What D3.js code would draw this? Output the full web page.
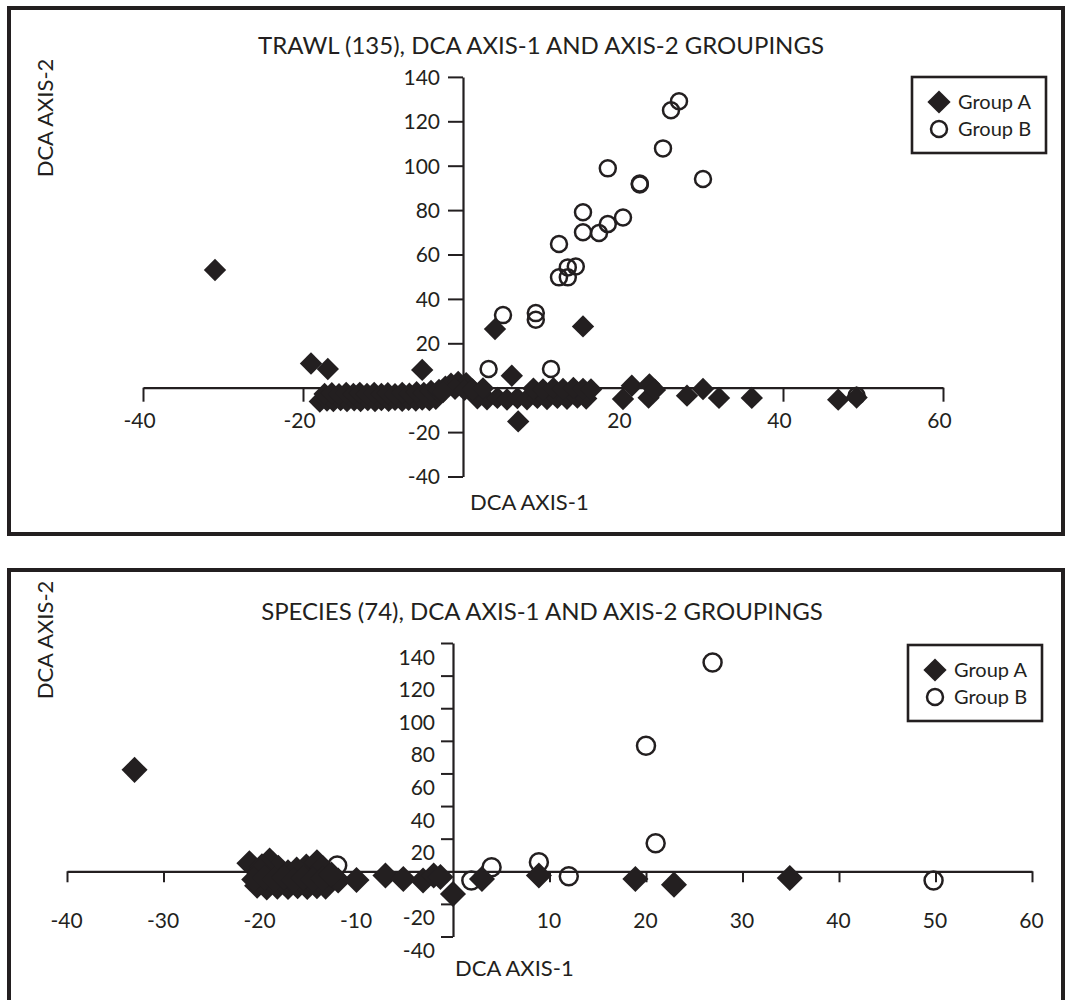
<!DOCTYPE html>
<html><head><meta charset="utf-8">
<script src="https://cdn.jsdelivr.net/npm/d3@7"></script>
<style>body{margin:0;background:#fff}svg{display:block}text{font-family:Lato,"Open Sans",sans-serif;fill:#231f20}</style>
</head><body>
<svg id="chart" width="1068" height="1000"></svg>
<script>
// ---------- DATA ----------
const xTickValues = [-40, -20, 20, 40, 60];
const yTickValues = [140, 120, 100, 80, 60, 40, 20, -20, -40];
const xTickValues2 = [-40, -30, -20, -10, 10, 20, 30, 40, 50, 60];
const legendLabels = ["Group A", "Group B"];
const titles = ["TRAWL (135), DCA AXIS-1 AND AXIS-2 GROUPINGS", "SPECIES (74), DCA AXIS-1 AND AXIS-2 GROUPINGS"];

// TRAWL: Group A (diamonds)
const trawlA = [
  [-31,53],[-19,10.9],[-16.9,8.4],[-5.1,8.0],[4.0,26.4],[15.0,27.6],[6.1,5.4],[6.9,-15.2],
  [20.0,-5.1],[21.1,0.9],[23.3,1.5],[23.2,-4.5],[24,-1],[28.0,-3.6],[30.0,-0.6],[32.0,-4.6],[36.1,-4.6],[46.9,-5.4],[49.2,-4.4],
  [-17.9,-6.2],[-17,-5.8],[-16.2,-6],[-15.3,-5.6],[-14.5,-6],[-13.6,-5.7],[-12.8,-6],[-11.9,-5.6],[-11,-6],[-10.2,-5.6],[-9.3,-5.9],[-8.5,-5.5],[-7.6,-5.9],[-6.8,-5.5],[-5.9,-5.8],[-5.1,-5.4],[-4.2,-5.6],[-3.4,-5],
  [-17.3,-2.8],[-16.4,-2.5],[-15.5,-2.9],[-14.6,-2.4],[-13.7,-2.8],[-12.9,-2.3],[-12,-2.8],[-11.1,-2.4],[-10.2,-2.8],[-9.4,-2.5],[-8.5,-2.9],[-7.6,-2.3],[-6.7,-2.7],[-5.8,-2],[-4.9,-2.4],[-4.0,-1.5],[-3.1,-1.8],
  [-3,-1],[-2.2,0.5],[-1.5,1.8],[-0.6,2.6],[0.4,2.0],[-1,-0.5],[-2.5,-2],[0.2,-1],
  [1.8,-4.8],[3,-5.2],[4.3,-4.6],[5.5,-5.3],[6.8,-4.7],[8,-5.2],[9.3,-4.6],[10.5,-5.1],[11.8,-4.6],[13,-5],[14.3,-4.5],[15.4,-4.9],
  [1.2,-0.8],[2.5,-0.3],[8.8,-0.4],[10,-0.8],[11.3,-0.2],[12.5,-0.6],[13.8,-0.1],[15,-0.5],[16,-0.8]
];
// TRAWL: Group B (circles)
const trawlB = [
  [27.0,129],[26.0,125],[25.0,107.8],[30.0,94],[22.1,91.5],[22.1,92],[18.1,98.8],[15.0,79],[20.0,76.7],[18.1,73.7],
  [17.0,69.7],[15.0,70],[12.0,64.7],[14.1,54.6],[13.1,54.2],[13.1,49.7],[12.0,49.7],[9.1,33.6],[9.1,30.6],[5.0,32.7],
  [3.2,8.4],[11.0,8.4],[49.2,-3.6]
];
// SPECIES: Group A (diamonds)
const speciesA = [
  [-33.0,62.2],
  [-21.1,4.9],[-19.0,6.6],[-18.1,2.1],[-17.1,-0.6],[-15.2,2.9],[-14.1,5.5],[-13.5,2],[-16.2,1],[-19.8,3],[-20,0],
  [-20.3,-8.8],[-19.3,-10],[-18.2,-9.4],[-17.1,-9.6],[-16.1,-9.2],[-15.1,-9.6],[-14.1,-9.2],[-13.2,-9.4],[-11.9,-5.7],
  [-20.6,-5],[-19.5,-4],[-18.5,-5],[-17.5,-4],[-16.5,-5.5],[-15.5,-4],[-14.5,-5],[-13.5,-4.5],[-12.6,-2],
  [-10,-5.3],[-7.0,-2.6],[-5.15,-4.7],[-3.1,-5.7],[-2.0,-2.6],[-1.3,-3.5],
  [0,-13.9],[3.0,-4.7],[8.9,-2.6],[18.9,-4.7],[22.9,-8.2],[34.9,-4.1]
];
// SPECIES: Group B (circles)
const speciesB = [
  [26.9,128],[20.0,77],[21.0,17.2],[8.9,5.5],[4.0,2.5],[1.9,-5.7],[12.0,-3.1],[49.8,-5.7],[-12.0,3.5]
];

// ---------- DRAW ----------
const ink = "#231f20";
const svg = d3.select("#chart");
const fmt = d => String(d);   // plain hyphen-minus like the reference

// panel frames
svg.append("path").attr("d","M9,534 L9,8 L1063,8 L1063,534 Z")
  .attr("fill","none").attr("stroke",ink).attr("stroke-width",4);
svg.append("path").attr("d","M9,1010 L9,570 L1063,570 L1063,1010")
  .attr("fill","none").attr("stroke",ink).attr("stroke-width",4);

function panel(cfg){
  const g = svg.append("g");
  const x = d3.scaleLinear().domain([-40,60]).range(cfg.xr);
  const y = d3.scaleLinear().domain([-40,140]).range(cfg.yr);

  g.append("text").attr("x",cfg.titleX).attr("y",cfg.titleY).attr("dy","0.35em")
    .attr("text-anchor","middle").style("font-size","24px").text(cfg.title);

  // x axis at y=0
  const gx = g.append("g").attr("transform",`translate(0,${y(0)})`)
    .call(d3.axisBottom(x).tickValues(cfg.xt).tickSize(cfg.xTick).tickSizeOuter(0).tickFormat(fmt));
  gx.select(".domain").attr("stroke",ink).attr("stroke-width",2.2);
  gx.selectAll(".tick line").attr("stroke",ink).attr("stroke-width",2);
  gx.selectAll(".tick text").attr("y",cfg.xLabY).attr("dy","0.35em").attr("dx",cfg.xLabDx)
    .style("font-size","21px").attr("fill",ink).style("font-family","Lato");

  // y axis at x=0
  const gy = g.append("g").attr("transform",`translate(${x(0)},0)`)
    .call(d3.axisLeft(y).tickValues(yTickValues).tickSize(cfg.yTick).tickSizeOuter(0).tickFormat(fmt));
  gy.select(".domain").attr("stroke",ink).attr("stroke-width",2.2);
  gy.selectAll(".tick line").attr("stroke",ink).attr("stroke-width",2);
  gy.selectAll(".tick text").attr("x",-cfg.yLabGap).attr("dy",cfg.yLabDy)
    .style("font-size","21px").attr("fill",ink).style("font-family","Lato");

  // axis titles
  g.append("text").attr("x",cfg.ax1X).attr("y",cfg.ax1Y).attr("dy","0.35em")
    .style("font-size","22px").text("DCA AXIS-1");
  g.append("text").attr("transform",`translate(${cfg.ax2X},${cfg.ax2Y}) rotate(-90)`)
    .attr("dy","0.35em").attr("text-anchor","middle").style("font-size","22px").text("DCA AXIS-2");

  // points
  g.append("g").selectAll("circle").data(cfg.b).join("circle")
    .attr("cx",d=>x(d[0])).attr("cy",d=>y(d[1])).attr("r",cfg.r)
    .attr("fill","none").attr("stroke",ink).attr("stroke-width",2.5);
  const dia = d3.symbol().type(d3.symbolSquare).size(cfg.dSize);
  g.append("g").selectAll("path").data(cfg.a).join("path")
    .attr("d",dia).attr("fill",ink)
    .attr("transform",d=>`translate(${x(d[0])},${y(d[1])}) rotate(45)`);

  // legend
  const L = cfg.leg;
  const lg = g.append("g");
  lg.append("rect").attr("x",L.x).attr("y",L.y).attr("width",L.w).attr("height",L.h)
    .attr("fill","#fff").attr("stroke",ink).attr("stroke-width",2.6);
  lg.append("path").attr("d",d3.symbol().type(d3.symbolSquare).size(270))
    .attr("fill",ink).attr("transform",`translate(${L.x+27},${L.y+25}) rotate(45)`);
  lg.append("circle").attr("cx",L.x+27).attr("cy",L.y+52).attr("r",8)
    .attr("fill","none").attr("stroke",ink).attr("stroke-width",2.5);
  lg.selectAll("text.lt").data(legendLabels).join("text").attr("class","lt")
    .attr("x",L.x+46).attr("y",(d,i)=>L.y+25+i*27).attr("dy","0.35em")
    .style("font-size","20px").text(d=>d);
}

panel({
  title: titles[0], titleX: 541, titleY: 46,
  xr: [143,943], yr: [476.5,76.9], xt: xTickValues,
  xTick: 14, yTick: 15, xLabY: 33, xLabDx: -4, yLabGap: 23, yLabDy: "0.35em",
  ax1X: 470, ax1Y: 502, ax2X: 45, ax2Y: 118,
  a: trawlA, b: trawlB, r: 8, dSize: 250,
  leg: {x: 912, y: 77, w: 134, h: 76}
});
panel({
  title: titles[1], titleX: 542, titleY: 612,
  xr: [67,1032], yr: [936.5,643], xt: xTickValues2,
  xTick: 11, yTick: 12, xLabY: 49, xLabDx: -1, yLabGap: 18, yLabDy: "1.0em",
  ax1X: 455, ax1Y: 968, ax2X: 45, ax2Y: 640,
  a: speciesA, b: speciesB, r: 9, dSize: 340,
  leg: {x: 908, y: 645, w: 134, h: 76}
});
</script>
</body></html>
